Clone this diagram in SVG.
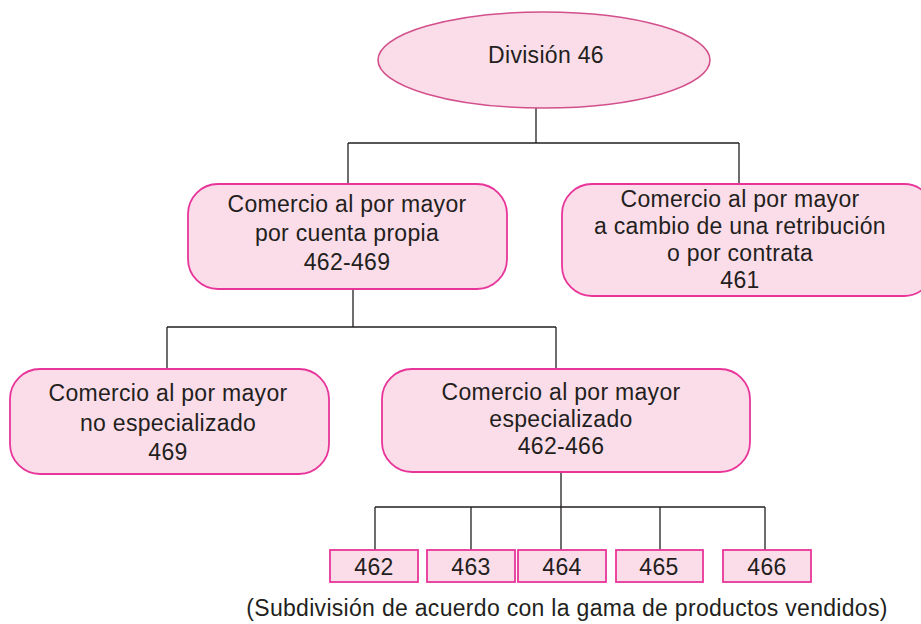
<svg xmlns="http://www.w3.org/2000/svg" width="921" height="624" viewBox="0 0 921 624">
<style>
.n{fill:#fbdde9;stroke:#e8359a;stroke-width:1.8}
.e{fill:#fadde8;stroke:#d2508c;stroke-width:1.6}
text{font-family:"Liberation Sans",Arial,sans-serif;font-size:23px;letter-spacing:0.3px;fill:#231f20;text-anchor:middle}
.c{fill:none;stroke:#231f20;stroke-width:1.3}
</style>
<rect width="921" height="624" fill="#ffffff"/>
<g id="connectors">
<path class="c" d="M536 108V143M348 143H739M348 143V184M739 143V184"/>
<path class="c" d="M353 289V327M167 327H556M167 327V369M556 327V369"/>
<path class="c" d="M561 472V507M375 507H765M375 507V550M471 507V550M561 507V550M660 507V550M765 507V550"/>
</g>
<g id="div46">
<ellipse class="e" cx="544" cy="60" rx="166" ry="48"/>
<text x="546" y="63">División 46</text>
</g>
<g id="propia">
<rect class="n" x="188" y="184" width="319" height="105" rx="30"/>
<text x="347" y="212">Comercio al por mayor</text>
<text x="347" y="241">por cuenta propia</text>
<text x="347" y="270">462-469</text>
</g>
<g id="contrata">
<rect class="n" x="562" y="184" width="372" height="112" rx="30"/>
<text x="740" y="207">Comercio al por mayor</text>
<text x="740" y="234">a cambio de una retribución</text>
<text x="740" y="261">o por contrata</text>
<text x="740" y="288">461</text>
</g>
<g id="noesp">
<rect class="n" x="10" y="369" width="319" height="105" rx="30"/>
<text x="168" y="401">Comercio al por mayor</text>
<text x="168" y="431">no especializado</text>
<text x="168" y="460">469</text>
</g>
<g id="esp">
<rect class="n" x="382" y="369" width="368" height="103" rx="30"/>
<text x="561" y="400">Comercio al por mayor</text>
<text x="561" y="427">especializado</text>
<text x="561" y="454">462-466</text>
</g>
<g id="b462"><rect class="n" x="330" y="550" width="88" height="32"/><text x="374" y="575">462</text></g>
<g id="b463"><rect class="n" x="427" y="550" width="88" height="32"/><text x="471" y="575">463</text></g>
<g id="b464"><rect class="n" x="518" y="550" width="88" height="32"/><text x="562" y="575">464</text></g>
<g id="b465"><rect class="n" x="616" y="550" width="87" height="32"/><text x="659" y="575">465</text></g>
<g id="b466"><rect class="n" x="723" y="550" width="88" height="32"/><text x="767" y="575">466</text></g>
<text x="567" y="616">(Subdivisión de acuerdo con la gama de productos vendidos)</text>
</svg>
